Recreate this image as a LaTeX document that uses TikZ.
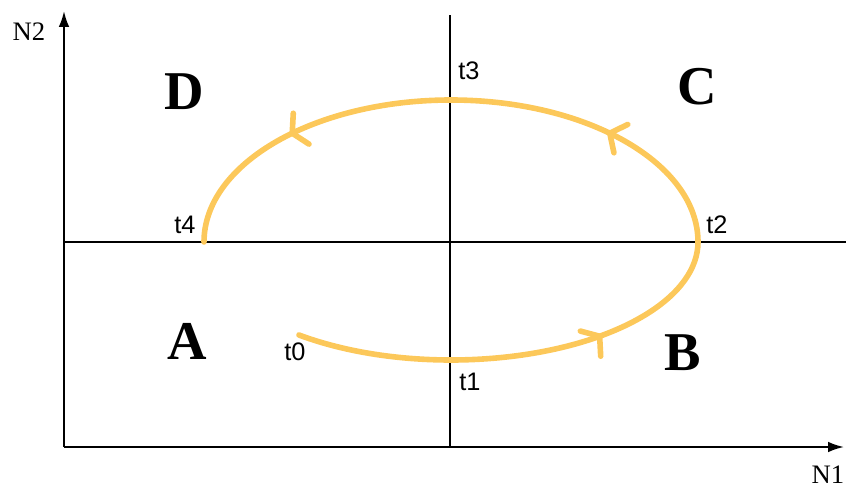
\documentclass[tikz,border=0pt]{standalone}
\usepackage{fontspec}
\setmainfont{Liberation Serif}
\newfontfamily\tfont{Liberation Sans}
\usetikzlibrary{calc,arrows.meta}
\definecolor{cycle}{HTML}{FCC85A}
\tikzset{
  axis/.style={line width=1.5pt, black},
  axisarrow/.style={axis, -{Latex[length=12pt,width=8pt]}},
  curve/.style={line width=4.2pt, cycle, line cap=round, line join=round},
  region/.style={inner sep=0pt, font=\fontsize{41}{41}\selectfont\bfseries},
  tlabel/.style={inner sep=0pt, font=\fontsize{19}{19}\selectfont\tfont},
  nlabel/.style={inner sep=0pt, font=\fontsize{20}{20}\selectfont},
}
\begin{document}
\begin{tikzpicture}[x=0.75pt,y=0.75pt]
\useasboundingbox (0,0) rectangle (846,490);
% axes
\coordinate (orig) at (64,43);
\coordinate (ytip) at (64,479);
\coordinate (xtip) at (844,43);
\coordinate (vtop) at (450,475);
\coordinate (vbot) at (450,43);
\coordinate (hl) at (64,248);
\coordinate (hr) at (846,248);
\draw[axisarrow] (orig) -- (ytip);
\draw[axisarrow] (orig) -- (xtip);
\draw[axis] (vbot) -- (vtop);
\draw[axis] (hl) -- (hr);
% cycle curve
\coordinate (O) at (451,248);
\coordinate (s) at ($(O)+(232:247 and 118)$);
\draw[curve] (s) arc[start angle=232, end angle=360, x radius=247, y radius=118]
  arc[start angle=0, end angle=180, x radius=247, y radius=142];
% arrowheads
\coordinate (a1) at ($(O)+(307:247 and 118)$);
\coordinate (a2) at ($(O)+(50:247 and 142)$);
\coordinate (a3) at ($(O)+(130:247 and 142)$);
\draw[curve] ($(a1)+(39+180-54:20)$) -- (a1) -- ($(a1)+(39+180+54:20)$);
\draw[curve] ($(a2)+(154+180-52:20)$) -- (a2) -- ($(a2)+(154+180+52:20)$);
\draw[curve] ($(a3)+(207+180-60:20)$) -- (a3) -- ($(a3)+(207+180+60:20)$);
% region labels
\node[region] (A) at (187,149) {A};
\node[region] (B) at (683,137) {B};
\node[region] (C) at (697,403) {C};
\node[region] (D) at (184,398) {D};
% time labels
\node[tlabel] (t0) at (295,138) {t0};
\node[tlabel] (t1) at (470,108) {t1};
\node[tlabel] (t2) at (717,265) {t2};
\node[tlabel] (t3) at (469,419) {t3};
\node[tlabel] (t4) at (185,265) {t4};
% axis labels
\node[nlabel] (N2) at (29,458) {N2};
\node[nlabel] (N1) at (828,15) {N1};
\end{tikzpicture}
\end{document}
